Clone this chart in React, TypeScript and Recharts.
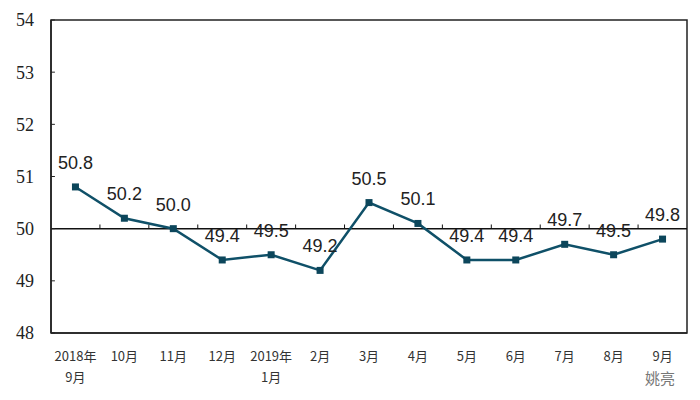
import { Line, LineChart, ReferenceArea, ReferenceLine, XAxis, YAxis, LabelList } from "recharts";

const categories = ["2018年9月", "10月", "11月", "12月", "2019年1月", "2月", "3月", "4月", "5月", "6月", "7月", "8月", "9月"];
const tickLines = [["2018年", "9月"], ["10月"], ["11月"], ["12月"], ["2019年", "1月"], ["2月"], ["3月"], ["4月"], ["5月"], ["6月"], ["7月"], ["8月"], ["9月"]];
const pmiValues = [50.8, 50.2, 50.0, 49.4, 49.5, 49.2, 50.5, 50.1, 49.4, 49.4, 49.7, 49.5, 49.8];
const yTicks = [48, 49, 50, 51, 52, 53, 54];

const data = categories.map((label, idx) => ({ idx, label, value: pmiValues[idx] }));
const boundaries = categories.slice(1).map((_, i) => i + 0.5);

const LINE = "#0f5068";

function XTick({ x, y, payload }: { x?: number; y?: number; payload?: { value: number } }) {
  const lines = tickLines[payload?.value ?? 0] ?? [];
  return (
    <g>
      {lines.map((t, i) => (
        <text
          key={i}
          x={x}
          y={(y ?? 0) + 22 + i * 21}
          textAnchor="middle"
          dominantBaseline="central"
          fill="#333"
          fontSize={13}
          fontFamily="'Noto Sans CJK SC', sans-serif"
        >
          {t}
        </text>
      ))}
    </g>
  );
}

function SquareDot({ cx, cy, index }: { cx?: number; cy?: number; index?: number }) {
  return <rect key={index} x={(cx ?? 0) - 3.5} y={(cy ?? 0) - 3.5} width={7} height={7} fill="#0c465b" />;
}

function ValueLabel({ x, y, value }: { x?: number | string; y?: number | string; value?: number | string }) {
  return (
    <text
      x={Number(x)}
      y={Number(y) - 24}
      textAnchor="middle"
      dominantBaseline="central"
      fill="#222"
      fontSize={18}
      fontFamily="'Liberation Sans', Arial, sans-serif"
    >
      {Number(value).toFixed(1)}
    </text>
  );
}

export default function App() {
  return (
    <div style={{ position: "absolute", left: 0, top: 0, width: 700, height: 400, background: "#fff" }}>
      <LineChart width={700} height={400} data={data} margin={{ top: 20, right: 13, bottom: 0, left: 0 }}>
        <ReferenceArea x1={-0.5} x2={12.5} y1={48} y2={54} fill="none" stroke="#222" strokeWidth={1.5} />
        <XAxis
          dataKey="idx"
          type="number"
          domain={[-0.5, 12.5]}
          ticks={categories.map((_, i) => i)}
          interval={0}
          height={67}
          tickLine={false}
          tickSize={0}
          tickMargin={0}
          axisLine={{ stroke: "#222", strokeWidth: 1.5 }}
          tick={<XTick />}
        />
        <YAxis
          domain={[48, 54]}
          ticks={yTicks}
          width={51}
          tickLine={false}
          tickSize={0}
          tickMargin={17}
          axisLine={{ stroke: "#222", strokeWidth: 1.5 }}
          tick={{ fill: "#222", fontSize: 18, fontFamily: "'Liberation Serif', 'Times New Roman', serif" }}
        />
        <ReferenceLine y={50} stroke="#111" strokeWidth={1.5} />
        {boundaries.map((b) => (
          <ReferenceLine key={`b${b}`} segment={[{ x: b, y: 50 }, { x: b, y: 50.08 }]} stroke="#111" strokeWidth={1} />
        ))}
        {yTicks.map((v) => (
          <ReferenceLine key={`y${v}`} segment={[{ x: -0.5, y: v }, { x: -0.42, y: v }]} stroke="#222" strokeWidth={1} />
        ))}
        <Line
          type="linear"
          dataKey="value"
          stroke={LINE}
          strokeWidth={2.5}
          dot={<SquareDot />}
          activeDot={false}
          isAnimationActive={false}
        >
          <LabelList dataKey="value" content={<ValueLabel />} />
        </Line>
      </LineChart>
      <div
        style={{
          position: "absolute",
          left: 645,
          top: 369,
          fontSize: 15,
          color: "#777",
          fontFamily: "'Noto Sans CJK SC', sans-serif",
          lineHeight: "17px",
        }}
      >
        姚亮
      </div>
    </div>
  );
}
